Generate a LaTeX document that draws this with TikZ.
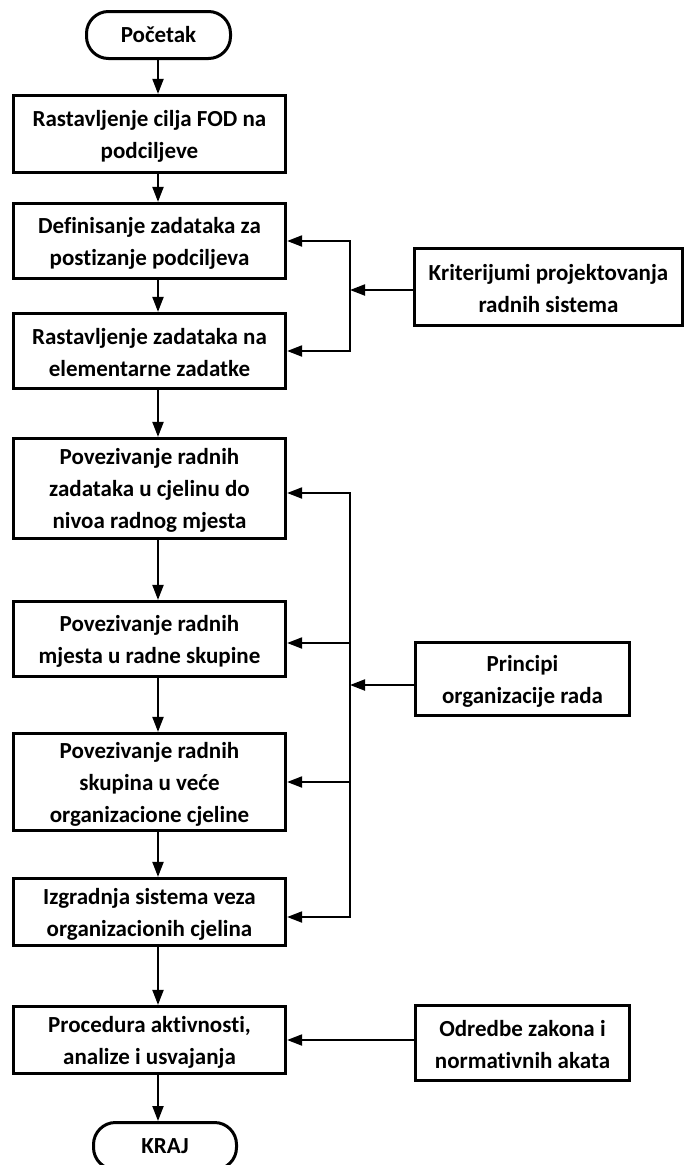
\documentclass[tikz,border=0pt]{standalone}
\usepackage{fontspec}
\setmainfont{Carlito}[Ligatures=NoCommon]
\usetikzlibrary{arrows.meta}
\begin{document}
\begin{tikzpicture}[x=1pt,y=-1pt,
  txt/.style={font=\fontsize{23}{32}\selectfont\bfseries, align=center, inner sep=0pt},
  lbl/.style={txt, yshift=-2pt},
  stepbox/.style={draw, line width=3.2pt, minimum width=272pt, inner sep=0pt},
  sidebox/.style={draw, line width=3.2pt, inner sep=0pt},
  term/.style={txt, draw, line width=3pt, rounded corners=22pt, minimum height=47pt},
  link/.style={line width=2pt},
  arr/.style={link, -{Triangle[length=15pt,width=11pt]}},
  darr/.style={link, {Triangle[length=15pt,width=11pt]}-{Triangle[length=15pt,width=11pt]}}]
\useasboundingbox (0,0) rectangle (685,1165);

% main column
\node[term, minimum width=144pt] (start) at (158.5,35) {Početak};
\node[stepbox, minimum height=77pt, label={[lbl]center:{Rastavljenje cilja FOD na\\podciljeve}}] (b1) at (149.5,134) {};
\node[stepbox, minimum height=75pt, label={[lbl]center:{Definisanje zadataka za\\postizanje podciljeva}}] (b2) at (149.5,241) {};
\node[stepbox, minimum height=75pt, label={[lbl]center:{Rastavljenje zadataka na\\elementarne zadatke}}] (b3) at (149.5,351) {};
\node[stepbox, minimum height=100pt, label={[lbl]center:{Povezivanje radnih\\zadataka u cjelinu do\\nivoa radnog mjesta}}] (b4) at (149.5,488.5) {};
\node[stepbox, minimum height=75pt, label={[lbl]center:{Povezivanje radnih\\mjesta u radne skupine}}] (b5) at (149.5,639) {};
\node[stepbox, minimum height=97pt, label={[lbl]center:{Povezivanje radnih\\skupina u veće\\organizacione cjeline}}] (b6) at (149.5,782) {};
\node[stepbox, minimum height=67pt, label={[lbl]center:{Izgradnja sistema veza\\organizacionih cjelina}}] (b7) at (149.5,912) {};
\node[stepbox, minimum height=67pt, label={[lbl]center:{Procedura aktivnosti,\\analize i usvajanja}}] (b8) at (149.5,1040) {};
\node[term, minimum width=143pt] (end) at (165,1146) {KRAJ};

% side inputs
\node[sidebox, minimum width=268pt, minimum height=77pt, label={[lbl]center:{Kriterijumi projektovanja\\radnih sistema}}] (krit) at (548.5,287) {};
\node[sidebox, minimum width=214pt, minimum height=73pt, label={[lbl]center:{Principi\\organizacije rada}}] (princ) at (522.5,679) {};
\node[sidebox, minimum width=214pt, minimum height=75pt, label={[lbl]center:{Odredbe zakona i\\normativnih akata}}] (odr) at (522.5,1043) {};

% trunk and bus positions
\coordinate (trunk) at (158,0);
\coordinate (bus) at (350,0);

% main flow
\draw[arr] (start.south -| trunk) -- (b1.north -| trunk);
\draw[arr] (b1.south -| trunk) -- (b2.north -| trunk);
\draw[arr] (b2.south -| trunk) -- (b3.north -| trunk);
\draw[arr] (b3.south -| trunk) -- (b4.north -| trunk);
\draw[arr] (b4.south -| trunk) -- (b5.north -| trunk);
\draw[arr] (b5.south -| trunk) -- (b6.north -| trunk);
\draw[arr] (b6.south -| trunk) -- (b7.north -| trunk);
\draw[arr] (b7.south -| trunk) -- (b8.north -| trunk);
\draw[arr] (b8.south -| trunk) -- (end.north -| trunk);

% design criteria bus
\draw[darr] (b2.east) -- (b2.east -| bus) -- (b3.east -| bus) -- (b3.east);
\draw[arr] (krit.west |- 0,290) -- (bus |- 0,290);

% organisation principles bus
\draw[darr] ([yshift=-4.5pt]b4.east) -- ([yshift=-4.5pt]b4.east -| bus) -- ([yshift=-5pt]b7.east -| bus) -- ([yshift=-5pt]b7.east);
\draw[arr] ([yshift=-4pt]b5.east -| bus) -- ([yshift=-4pt]b5.east);
\draw[arr] (b6.east -| bus) -- (b6.east);
\draw[arr] ([yshift=-6pt]princ.west) -- ([yshift=-6pt]princ.west -| bus);

% legal provisions
\draw[arr] (odr.west |- b8.east) -- (b8.east);
\end{tikzpicture}
\end{document}
